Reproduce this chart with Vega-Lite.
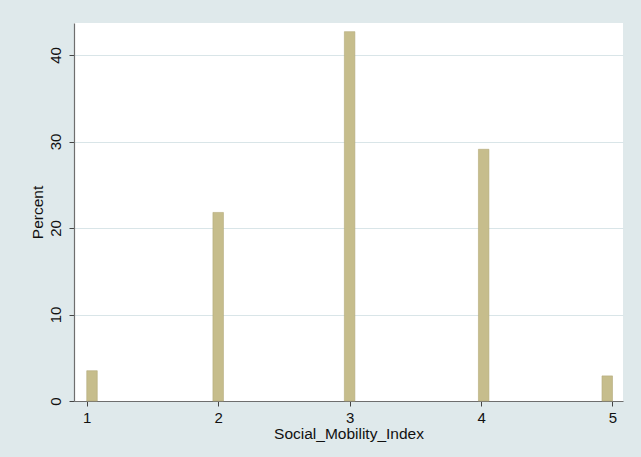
{
  "$schema": "https://vega.github.io/schema/vega-lite/v6.json",
  "width": 549,
  "height": 378,
  "autosize": {"type": "none"},
  "padding": {"left": 74, "top": 23, "right": 18, "bottom": 56},
  "background": "#dfe9eb",
  "data": {
    "values": [
      {"bin_start": 1.0, "bin_end": 1.08, "percent": 3.5},
      {"bin_start": 1.96, "bin_end": 2.04, "percent": 21.8},
      {"bin_start": 2.96, "bin_end": 3.04, "percent": 42.7},
      {"bin_start": 3.98, "bin_end": 4.06, "percent": 29.1},
      {"bin_start": 4.92, "bin_end": 5.0, "percent": 2.9}
    ]
  },
  "mark": {"type": "rect", "fill": "#c6bd8c", "stroke": "#b3a978", "strokeWidth": 0.6},
  "encoding": {
    "x": {
      "field": "bin_start",
      "type": "quantitative",
      "scale": {"domain": [0.903, 5.08], "nice": false, "zero": false},
      "axis": {
        "title": "Social_Mobility_Index",
        "values": [1, 2, 3, 4, 5],
        "format": "d",
        "grid": false,
        "domainColor": "#6e6e6e",
        "domainWidth": 1.2,
        "tickColor": "#444444",
        "tickSize": 5,
        "labelFont": "Liberation Sans",
        "labelFontSize": 15,
        "labelColor": "#111111",
        "labelPadding": 4,
        "titleFont": "Liberation Sans",
        "titleFontSize": 15.5,
        "titleFontWeight": "normal",
        "titleColor": "#111111",
        "titlePadding": 1
      }
    },
    "x2": {"field": "bin_end"},
    "y": {
      "field": "percent",
      "type": "quantitative",
      "scale": {"domain": [0, 43.7], "nice": false},
      "axis": {
        "title": "Percent",
        "values": [0, 10, 20, 30, 40],
        "gridColor": "#d9e5e8",
        "gridWidth": 1,
        "domainColor": "#6e6e6e",
        "domainWidth": 1.2,
        "tickColor": "#444444",
        "tickSize": 5,
        "labelAngle": -90,
        "labelAlign": "center",
        "labelBaseline": "bottom",
        "labelFont": "Liberation Sans",
        "labelFontSize": 15,
        "labelColor": "#111111",
        "labelPadding": 6,
        "titleFont": "Liberation Sans",
        "titleFontSize": 15.5,
        "titleFontWeight": "normal",
        "titleColor": "#111111",
        "titlePadding": 3
      }
    },
    "y2": {"datum": 0}
  },
  "config": {
    "view": {"fill": "white", "stroke": null}
  }
}
